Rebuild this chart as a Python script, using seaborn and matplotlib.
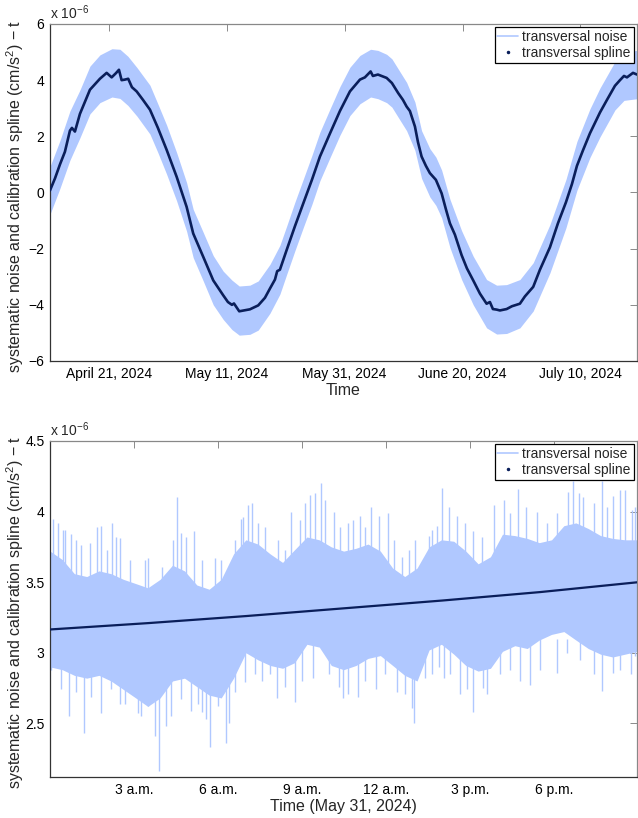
import numpy as np
import pandas as pd
import matplotlib
matplotlib.use("Agg")
import matplotlib.pyplot as plt
from matplotlib.lines import Line2D
import seaborn as sns

# ---------------- data: top panel (values in units of 1e-6 cm/s^2) ----------------
# days since 2024-04-21
spline_days = [-10.01, -9.16, -8.31, -7.47, -6.62, -6.28, -5.77, -4.92, -3.22, -1.53,
               -0.39, 0.46, 1.19, 1.70, 2.15, 2.71, 3.27, 3.90, 4.70,
               5.77, 6.96, 8.31, 9.79, 11.49, 13.18, 14.30, 16.00, 17.70, 19.39,
               20.19, 20.87, 21.21, 22.11, 23.92, 25.33, 26.47, 27.32, 28.17, 28.55,
               29.01, 30.15, 31.56, 32.97, 34.44, 35.80, 37.50, 39.19, 40.89, 42.59,
               43.43, 44.40, 44.79, 45.64, 47.12, 48.01, 49.08, 49.88, 50.51, 51.07,
               51.92, 52.43, 53.05, 53.78, 54.46, 55.48, 56.45, 57.18, 57.86, 58.70,
               59.84, 60.74, 61.81, 62.95, 64.08, 64.64, 65.15, 65.78, 66.34, 67.48,
               68.38, 69.73, 70.58, 71.99, 73.13, 74.83, 76.18, 77.54, 78.56, 79.41,
               80.43, 81.62, 83.32, 84.51, 85.86, 86.71, 87.39, 87.90, 88.92, 89.60]
spline_vals = [0.07, 0.5, 1.0, 1.45, 2.2, 2.3, 2.17, 2.8, 3.66, 4.05,
               4.26, 4.1, 4.25, 4.37, 4.0, 4.02, 4.05, 3.75, 3.6,
               3.3, 2.95, 2.3, 1.52, 0.56, -0.51, -1.46, -2.29, -3.13, -3.66,
               -3.9, -4.0, -3.95, -4.23, -4.16, -4.02, -3.75, -3.42, -3.1, -2.8,
               -2.75, -2.05, -1.2, -0.39, 0.45, 1.28, 2.1, 2.9, 3.6, 4.02,
               4.1, 4.31, 4.15, 4.2, 4.08, 3.9, 3.54, 3.3, 3.06, 2.9,
               2.35, 1.8, 1.28, 0.95, 0.69, 0.45, -0.03, -0.6, -1.1, -1.5,
               -2.23, -2.7, -3.13, -3.6, -3.96, -3.9, -4.15, -4.17, -4.2, -4.15,
               -4.05, -3.96, -3.7, -3.36, -2.75, -1.95, -1.1, -0.35, 0.3, 0.95,
               1.5, 2.11, 2.85, 3.3, 3.8, 4.0, 4.15, 4.1, 4.26, 4.2]

band_days = [-10.01, -8.31, -6.62, -4.92, -3.22, -1.53, 0.51, 1.87, 3.22, 4.75,
             6.96, 8.31, 9.79, 11.49, 13.18, 14.30, 16.00, 17.70, 19.39, 20.87,
             22.11, 23.92, 25.33, 27.32, 29.01, 30.15, 31.56, 32.97, 34.44, 35.80,
             37.50, 39.19, 40.89, 42.59, 44.40, 45.64, 47.12, 48.01, 49.08, 50.51,
             51.92, 53.05, 54.46, 55.48, 56.45, 57.86, 59.84, 61.81, 64.08, 65.78,
             67.48, 69.73, 71.99, 74.83, 77.54, 79.41, 81.62, 83.32, 85.86, 87.39, 89.60]
band_hi = [0.92, 1.85, 2.9, 3.65, 4.5, 4.9, 5.12, 5.1, 4.85, 4.45,
           3.82, 3.15, 2.4, 1.42, 0.35, -0.6, -1.42, -2.25, -2.8, -3.12,
           -3.33, -3.3, -3.15, -2.56, -1.88, -1.2, -0.34, 0.47, 1.32, 2.15,
           2.97, 3.77, 4.46, 4.88, 5.1, 5.06, 4.92, 4.76, 4.4, 3.92,
           3.22, 2.2, 1.56, 1.26, 0.8, -0.24, -1.36, -2.27, -3.1, -3.3,
           -3.28, -3.1, -2.5, -1.14, 0.46, 1.82, 2.98, 3.72, 4.66, 5.0, 5.06]
band_lo = [-0.78, 0.15, 1.15, 1.95, 2.8, 3.2, 3.4, 3.35, 3.1, 2.72,
           2.08, 1.42, 0.65, -0.3, -1.38, -2.32, -3.15, -4.0, -4.52, -4.88,
           -5.08, -5.05, -4.9, -4.3, -3.62, -2.92, -2.07, -1.25, -0.42, 0.42,
           1.24, 2.04, 2.74, 3.16, 3.4, 3.34, 3.2, 3.04, 2.68, 2.2,
           1.5, 0.5, -0.16, -0.46, -0.9, -1.96, -3.1, -4.0, -4.82, -5.04,
           -5.02, -4.82, -4.22, -2.86, -1.26, 0.08, 1.25, 1.98, 2.94, 3.28, 3.34]

top_tick_dates = ["2024-04-21", "2024-05-11", "2024-05-31", "2024-06-20", "2024-07-10"]
top_yticks = [-6, -4, -2, 0, 2, 4, 6]

# ---------------- data: bottom panel (hours of May 31, 2024) ----------------
bottom_spline_hours = [0, 3.5, 7, 10.5, 14, 17.5, 21]
bottom_spline_vals = [3.165, 3.21, 3.26, 3.315, 3.37, 3.43, 3.50]

body_hours = [0, 0.44, 0.87, 1.31, 1.75, 2.18, 2.62, 3.06, 3.49, 3.93,
              4.37, 4.80, 5.24, 5.68, 6.11, 6.55, 6.99, 7.42, 7.86, 8.30,
              8.73, 9.17, 9.61, 10.04, 10.48, 10.92, 11.35, 11.79, 12.23, 12.66,
              13.10, 13.53, 13.97, 14.41, 14.84, 15.28, 15.72, 16.15, 16.59, 17.03,
              17.46, 17.90, 18.34, 18.77, 19.21, 19.65, 20.08, 20.52, 20.95]
body_hi = [3.72, 3.66, 3.56, 3.54, 3.58, 3.56, 3.52, 3.49, 3.46, 3.52,
           3.62, 3.58, 3.48, 3.45, 3.52, 3.70, 3.80, 3.77, 3.70, 3.64,
           3.73, 3.82, 3.80, 3.75, 3.72, 3.74, 3.77, 3.72, 3.60, 3.54,
           3.60, 3.75, 3.80, 3.79, 3.72, 3.63, 3.68, 3.84, 3.83, 3.81,
           3.78, 3.80, 3.90, 3.92, 3.88, 3.83, 3.81, 3.80, 3.80]
body_lo = [2.90, 2.88, 2.84, 2.82, 2.84, 2.80, 2.74, 2.68, 2.62, 2.68,
           2.80, 2.82, 2.76, 2.70, 2.68, 2.82, 3.00, 2.95, 2.91, 2.89,
           2.93, 3.06, 3.04, 2.91, 2.88, 2.91, 2.96, 2.98, 2.91, 2.84,
           2.80, 3.02, 3.06, 2.99, 2.91, 2.87, 2.89, 3.01, 3.05, 3.03,
           3.09, 3.13, 3.15, 3.09, 3.03, 2.99, 2.97, 2.99, 3.01]

spike_up_hours = [0.10, 0.29, 0.46, 0.55, 0.74, 0.94, 1.12, 1.42, 1.66, 1.83,
                  2.05, 2.22, 2.37, 2.49, 2.85, 3.38, 3.50, 3.98, 4.39, 4.54,
                  4.69, 4.87, 5.15, 5.41, 5.88, 6.12, 6.60, 6.81, 6.89, 7.05,
                  7.20, 7.44, 7.68, 8.15, 8.39, 8.60, 8.93, 9.11, 9.29, 9.46,
                  9.66, 9.82, 10.12, 10.36, 10.65, 10.83, 11.07, 11.25, 11.46, 11.73,
                  12.06, 12.26, 12.55, 12.80, 13.04, 13.51, 13.63, 13.80, 13.98, 14.23,
                  14.52, 14.82, 15.11, 15.42, 15.83, 16.19, 16.43, 16.69, 16.99, 17.38,
                  17.73, 18.10, 18.49, 18.66, 18.87, 19.04, 19.41, 19.70, 19.88, 20.09,
                  20.36, 20.53, 20.77, 20.88]
spike_up_vals = [3.95, 3.92, 3.87, 3.87, 3.84, 3.80, 3.76, 3.78, 3.89, 3.90,
                 3.73, 3.92, 3.82, 3.81, 3.66, 3.66, 3.67, 3.61, 3.80, 4.10,
                 3.85, 3.82, 3.86, 3.66, 3.67, 3.66, 3.80, 3.95, 3.96, 4.05,
                 4.06, 3.92, 3.89, 3.80, 3.73, 4.00, 3.94, 4.06, 4.12, 4.13,
                 4.20, 4.08, 4.00, 3.89, 3.92, 3.94, 3.97, 3.89, 4.03, 3.97,
                 3.99, 3.80, 3.68, 3.73, 3.80, 3.83, 3.87, 3.90, 4.17, 4.03,
                 3.97, 3.92, 3.86, 3.82, 4.05, 4.08, 3.99, 4.16, 4.03, 4.00,
                 3.92, 3.99, 4.14, 4.22, 4.13, 4.10, 4.06, 4.22, 4.03, 4.11,
                 4.15, 4.15, 4.01, 4.03]
spike_dn_hours = [0.05, 0.41, 0.68, 0.94, 1.22, 1.48, 1.83, 2.19, 2.49, 2.67,
                  3.14, 3.26, 3.50, 3.74, 3.88, 4.15, 4.33, 4.69, 5.04, 5.29,
                  5.43, 5.58, 5.71, 6.00, 6.29, 6.38, 6.60, 6.95, 7.32, 7.56,
                  7.86, 8.09, 8.39, 8.73, 8.99, 9.40, 9.94, 10.30, 10.47, 10.65,
                  11.01, 11.25, 11.64, 11.96, 12.38, 12.68, 12.91, 12.98, 13.39, 13.63,
                  13.87, 14.05, 14.29, 14.64, 14.88, 15.11, 15.46, 15.60, 16.07, 16.43,
                  16.79, 17.14, 17.50, 18.08, 18.45, 18.93, 19.41, 19.70, 20.09, 20.36,
                  20.72, 20.88]
spike_dn_vals = [2.88, 2.74, 2.55, 2.72, 2.43, 2.69, 2.57, 2.74, 2.64, 2.64,
                 2.57, 2.55, 2.62, 2.41, 2.16, 2.48, 2.55, 2.67, 2.59, 2.64,
                 2.58, 2.53, 2.33, 2.62, 2.36, 2.50, 2.72, 2.79, 2.85, 2.80,
                 2.85, 2.68, 2.76, 2.65, 2.80, 2.82, 2.85, 2.76, 2.68, 2.71,
                 2.69, 2.80, 2.74, 2.85, 2.72, 2.71, 2.61, 2.50, 2.82, 2.85,
                 2.90, 2.82, 2.85, 2.71, 2.74, 2.58, 2.75, 2.71, 2.85, 2.88,
                 2.80, 2.77, 2.88, 2.86, 3.00, 2.95, 2.85, 2.73, 2.86, 2.88,
                 2.85, 2.98]

bottom_tick_hours = [3, 6, 9, 12, 15, 18]
bottom_tick_labels = ["3 a.m.", "6 a.m.", "9 a.m.", "12 a.m.", "3 p.m.", "6 p.m."]
bottom_yticks = [2.5, 3, 3.5, 4, 4.5]

# ---------------- style ----------------
sns.set_theme(style="white")
plt.rcParams["font.family"] = ["Liberation Sans", "DejaVu Sans"]
plt.rcParams["mathtext.fontset"] = "custom"
plt.rcParams["mathtext.rm"] = "Liberation Sans"
plt.rcParams["mathtext.it"] = "Liberation Sans"
plt.rcParams["axes.unicode_minus"] = True

NOISE = "#b0c8ff"
SPLINE = "#0a1e5a"
YLABEL = "systematic noise and calibration spline (cm/s$^2$) \u2212 t"

fig = plt.figure(figsize=(6.38, 8.18), dpi=100)
W, H = 638.0, 818.0
ax1 = fig.add_axes([50 / W, (H - 361) / H, 587 / W, 337 / H])
ax2 = fig.add_axes([50 / W, (H - 777) / H, 587 / W, 336 / H])

base1 = pd.Timestamp("2024-04-21")
base2 = pd.Timestamp("2024-05-31")

# --- top ---
df_spline = pd.DataFrame({"time": base1 + pd.to_timedelta(spline_days, unit="D"),
                          "value": spline_vals})
band_t = base1 + pd.to_timedelta(band_days, unit="D")
ax1.fill_between(band_t, band_lo, band_hi, color=NOISE, lw=0, zorder=1)
sns.lineplot(data=df_spline, x="time", y="value", ax=ax1, color=SPLINE, lw=1.9,
             legend=False, zorder=3)
ax1.set_xlim(base1 + pd.Timedelta(days=-10.0), base1 + pd.Timedelta(days=89.6))
ax1.set_ylim(-6, 6)
tds = [pd.Timestamp(d) for d in top_tick_dates]
ax1.set_xticks(tds)
ax1.set_xticklabels([f"{d:%B} {d.day}, {d.year}" for d in tds])
ax1.set_yticks(top_yticks)
ax1.set_yticklabels([f"{v:g}".replace("-", "\u2212") for v in top_yticks])
ax1.set_xlabel("Time", fontsize=11.5, labelpad=2)

# --- bottom ---
df_bs = pd.DataFrame({"time": base2 + pd.to_timedelta(bottom_spline_hours, unit="h"),
                      "value": bottom_spline_vals})
body_t = base2 + pd.to_timedelta(body_hours, unit="h")
ax2.fill_between(body_t, body_lo, body_hi, color=NOISE, lw=0, zorder=1)
up_t = base2 + pd.to_timedelta(spike_up_hours, unit="h")
dn_t = base2 + pd.to_timedelta(spike_dn_hours, unit="h")
ax2.vlines(up_t, 3.4, spike_up_vals, color=NOISE, lw=1.0, zorder=1)
ax2.vlines(dn_t, 3.1, spike_dn_vals, color=NOISE, lw=1.0, zorder=1)
sns.lineplot(data=df_bs, x="time", y="value", ax=ax2, color=SPLINE, lw=1.6,
             legend=False, zorder=3)
ax2.set_xlim(base2, base2 + pd.Timedelta(hours=20.95))
ax2.set_ylim(2.12, 4.5)
ax2.set_xticks([base2 + pd.Timedelta(hours=h) for h in bottom_tick_hours])
ax2.set_xticklabels(bottom_tick_labels)
ax2.set_yticks(bottom_yticks)
ax2.set_yticklabels([f"{v:g}" for v in bottom_yticks])
ax2.set_xlabel("Time (May 31, 2024)", fontsize=11.5, labelpad=2)

for ax in (ax1, ax2):
    ax.set_ylabel(YLABEL, fontsize=11.5)
    ax.yaxis.set_label_coords(-0.041, 0.49)
    ax.tick_params(axis="both", which="major", direction="in", length=5, width=0.6,
                   top=True, right=True, labelsize=10, pad=4, color="#777777",
                   labelcolor="black")
    for side in ("left", "bottom"):
        ax.spines[side].set_color("#333333")
        ax.spines[side].set_linewidth(0.9)
    for side in ("top", "right"):
        ax.spines[side].set_color("#888888")
        ax.spines[side].set_linewidth(0.9)
    ax.text(0.0, 1.006, "x 10$^{\u22126}$", transform=ax.transAxes,
            ha="left", va="bottom", fontsize=10)
    handles = [Line2D([], [], color=NOISE, lw=1.2),
               Line2D([], [], color=SPLINE, lw=0, marker=".", markersize=3)]
    leg = ax.legend(handles, ["transversal noise", "transversal spline"],
                    loc="upper right", fontsize=10, frameon=True, fancybox=False,
                    edgecolor="black", framealpha=1, borderaxespad=0.25,
                    borderpad=0.2, labelspacing=0.15, handlelength=1.5,
                    handletextpad=0.3)
    leg.get_frame().set_linewidth(0.9)

fig.savefig("out.png", dpi=100)
